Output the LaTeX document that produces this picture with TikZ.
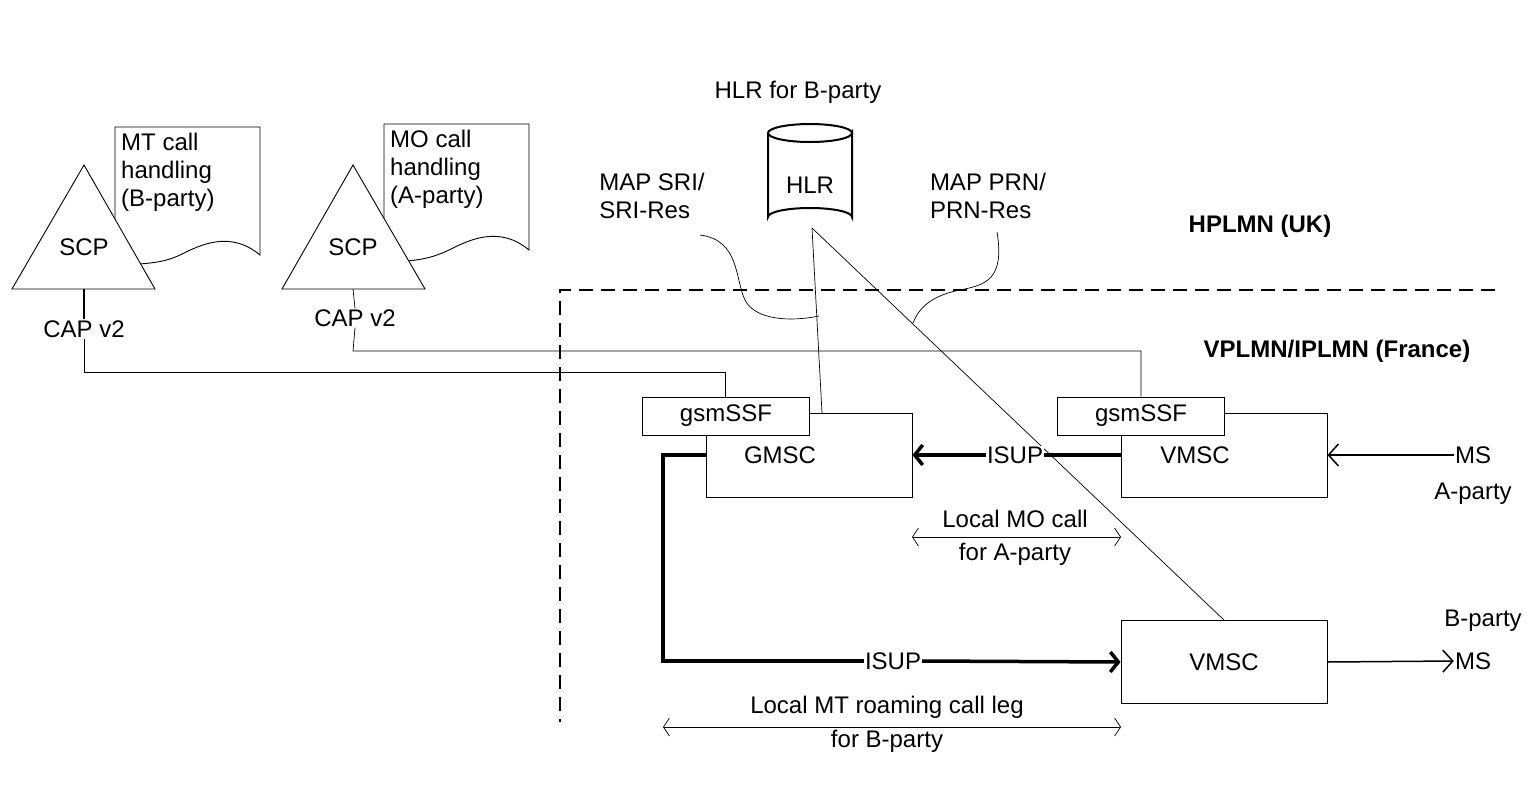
\documentclass[tikz,border=0pt]{standalone}
\usepackage{fontspec}
\setmainfont{Liberation Sans}
\usetikzlibrary{arrows.meta,shapes.geometric}
\begin{document}
\begin{tikzpicture}[x=1pt,y=-1pt,
  txt/.style={font=\fontsize{24}{28}\selectfont, inner sep=1pt},
  bold/.style={txt, font=\fontsize{24}{28}\selectfont\bfseries},
  boxs/.style={draw, line width=0.9pt, fill=white},
  thin/.style={line width=0.7pt},
  thick2/.style={line width=3.5pt},
  tip/.style={-{Straight Barb[length=10pt,width=22pt]}},
  ttip/.style={-{Straight Barb[length=8pt,width=20pt,line width=3.5pt]}}]
\useasboundingbox (0,0) rectangle (1540,785);
% documents and SCPs
\draw[boxs] (260,255) .. controls (230,230) and (200,245) .. (180,255) .. controls (165,262) and (150,265) .. (100,265) -- (115,265) -- (115,127) -- (260,127) -- cycle;
\node[txt, anchor=north west, align=left] (d1) at (120,132) {MT call\\handling\\(B-party)};
\draw[boxs] (12,289) -- (84,165) -- (155,289) -- cycle;
\node[txt] (scp1) at (84,247) {SCP};
\draw[boxs] (529,250) .. controls (499,225) and (469,240) .. (449,250) .. controls (434,257) and (420,262) .. (380,262) -- (384,262) -- (384,124) -- (529,124) -- cycle;
\node[txt, anchor=north west, align=left] (d2) at (389,129) {MO call\\handling\\(A-party)};
\draw[boxs] (282,289) -- (353,165) -- (425,289) -- cycle;
\node[txt] (scp2) at (353,247) {SCP};
% boundaries
\draw[dashed, line width=1.8pt, dash pattern=on 14pt off 8pt] (1495,290) -- (560,290) -- (560,722);
% HLR
\draw[boxs, line width=2pt] (768,133) -- (768,217) arc[start angle=180,end angle=360,x radius=42,y radius=9] -- (852,133) arc[start angle=0,end angle=360,x radius=42,y radius=9];
\node[txt] (hlr) at (810,185) {HLR};
\coordinate (hb) at (812,228);
\node[txt] (hlrl) at (798,92) {HLR for B-party};
% MSCs
\node[boxs, minimum width=206pt, minimum height=84pt, inner sep=0pt] (gmsc) at (809,455) {};
\node[txt] at (780,455) {GMSC};
\node[boxs, minimum width=206pt, minimum height=84pt, inner sep=0pt] (vmsc1) at (1224,455) {};
\node[txt] at (1195,455) {VMSC};
\node[boxs, minimum width=206pt, minimum height=83pt, inner sep=0pt] (vmsc2) at (1224,662) {};
\node[txt] at (1224,662) {VMSC};
\node[boxs, txt, minimum width=167pt, minimum height=38pt] (ssf1) at (726,416) {gsmSSF};
\node[boxs, txt, minimum width=167pt, minimum height=38pt] (ssf2) at (1141,416) {gsmSSF};
% HLR links
\draw[thin] (hb) -- (822,413);
\draw[thin] (hb) -- (vmsc2.north);
% MAP labels
\node[txt, align=left] (sri) at (652,196) {MAP SRI/\\SRI-Res};
\draw[thin] (700,235) .. controls (740,240) and (735,280) .. (745,300) .. controls (755,320) and (790,322) .. (819,316);
\node[txt, align=left] (prn) at (988,196) {MAP PRN/\\PRN-Res};
\draw[thin] (997,232) .. controls (1005,280) and (985,285) .. (960,290) .. controls (935,295) and (920,305) .. (913,323);
\node[bold] (hp) at (1260,226) {HPLMN (UK)};
\node[bold] (vp) at (1337,351) {VPLMN/IPLMN (France)};
% CAP
\node[txt] (cap1) at (84,329) {CAP v2};
\node[txt] (cap2) at (355,318) {CAP v2};
\draw[line width=1.5pt] (84,289) -- (cap1.north);
\draw[thin] (353,289) -- (cap2.north);
\draw[thin] (cap1.south) -- (84,372) -- (725,372) -- (ssf1.north -| 725,0);
\draw[thin] (cap2.south) -- (353,351) -- (1141,351) -- (ssf2.north);
% ISUP
\node[txt, fill=white] (isup1) at (1015,455) {ISUP};
\draw[thick2] (vmsc1.west) -- (isup1.east);
\draw[thick2, ttip] (isup1.west) -- (gmsc.east);
\node[txt, fill=white] (isup2) at (893,661) {ISUP};
\draw[thick2] (gmsc.west) -- (663,455) -- (663,661) -- (isup2.west);
\draw[thick2, ttip] (isup2.east) -- (vmsc2.west);
% MS
\node[txt] (msa) at (1473,455) {MS};
\node[txt] (apa) at (1473,494) {A-party};
\draw[line width=1.5pt, tip] (msa.west) -- (vmsc1.east);
\node[txt] (msb) at (1473,661) {MS};
\node[txt] (bpa) at (1483,621) {B-party};
\draw[line width=1.5pt, tip] (vmsc2.east) -- (msb.west);
% local legs
\coordinate (mo1) at (912,537); \coordinate (mo2) at (1121,537);
\draw[thin, {Straight Barb[length=6pt,width=18pt]}-{Straight Barb[length=6pt,width=18pt]}] (mo1) -- (mo2);
\node[txt] (mol) at (1015,519) {Local MO call};
\node[txt] (mol2) at (1015,554) {for A-party};
\coordinate (mt1) at (663,727); \coordinate (mt2) at (1121,727);
\draw[thin, {Straight Barb[length=6pt,width=18pt]}-{Straight Barb[length=6pt,width=18pt]}] (mt1) -- (mt2);
\node[txt] (mtl) at (887,707) {Local MT roaming call leg};
\node[txt] (mtl2) at (887,741) {for B-party};
\end{tikzpicture}
\end{document}
